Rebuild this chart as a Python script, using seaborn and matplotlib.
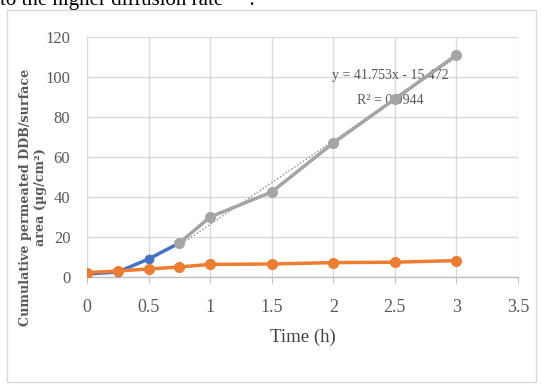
import matplotlib
matplotlib.use("Agg")
import matplotlib.pyplot as plt
import seaborn as sns
import pandas as pd
import numpy as np
from matplotlib.patches import Rectangle

# ---- data ----
blue_time = [0, 0.25, 0.5, 0.75]
blue_vals = [1.5, 2.5, 9, 17]

gray_time = [0.75, 1, 1.5, 2, 2.5, 3]
gray_vals = [17, 30, 42.5, 67, 89, 111]

orange_time = [0, 0.25, 0.5, 0.75, 1, 1.5, 2, 2.5, 3]
orange_vals = [2.2, 3, 4, 5, 6.3, 6.5, 7.2, 7.4, 8.2]

trend_slope = 41.753
trend_intercept = -15.472
trend_label = "y = 41.753x - 15.472"
r2_label = "R² = 0.9944"

x_ticks = [0, 0.5, 1, 1.5, 2, 2.5, 3, 3.5]
x_ticklabels = ["0", "0.5", "1", "1.5", "2", "2.5", "3", "3.5"]
y_ticks = [0, 20, 40, 60, 80, 100, 120]

sns.set_theme(style="white")
plt.rcParams["font.family"] = ["Liberation Serif", "DejaVu Serif"]

W, H = 541, 385
fig = plt.figure(figsize=(W / 100, H / 100), dpi=100)

# outer chart border
fig.patches.append(Rectangle((7 / W, 1 - 382 / H), (536 - 7) / W, (382 - 10) / H,
                             transform=fig.transFigure, fill=False,
                             edgecolor="#d9d9d9", linewidth=1.0))

# clipped text line from the page above
fig.text(0.0, 1 - 5 / H, "to the higher diffusion rate     .", fontsize=15,
         va="baseline", ha="left", color="black", family="Liberation Serif")

ax = fig.add_axes([87 / W, 1 - 277 / H, (518 - 87) / W, (277 - 37) / H])

df_blue = pd.DataFrame({"t": blue_time, "v": blue_vals})
df_gray = pd.DataFrame({"t": gray_time, "v": gray_vals})
df_orange = pd.DataFrame({"t": orange_time, "v": orange_vals})

trend_x = np.array([min(gray_time), max(gray_time)])
df_trend = pd.DataFrame({"t": trend_x, "v": trend_slope * trend_x + trend_intercept})

sns.lineplot(data=df_blue, x="t", y="v", ax=ax, color="#4472c4", linewidth=2.5,
             marker="o", markersize=7, markeredgewidth=0, zorder=3)
sns.lineplot(data=df_trend, x="t", y="v", ax=ax, color="#8c8c8c", linewidth=1.0,
             linestyle=(0, (1, 1.5)), zorder=4)
sns.lineplot(data=df_gray, x="t", y="v", ax=ax, color="#a5a5a5", linewidth=2.5,
             marker="o", markersize=8, markeredgewidth=0, zorder=5)
sns.lineplot(data=df_orange, x="t", y="v", ax=ax, color="#ed7d31", linewidth=2.5,
             marker="o", markersize=8, markeredgewidth=0, zorder=6)

ax.set_xlim(0, 3.5)
ax.set_ylim(0, 120)
ax.set_xticks(x_ticks)
ax.set_xticklabels(x_ticklabels)
ax.set_yticks(y_ticks)

ax.grid(True, color="#d9d9d9", linewidth=1.0)
ax.set_axisbelow(True)
for s in ["top", "right", "left"]:
    ax.spines[s].set_visible(False)
ax.spines["bottom"].set_color("#bfbfbf")
ax.spines["bottom"].set_linewidth(1.0)

ax.tick_params(axis="x", which="major", bottom=True, length=4, width=0.8,
               color="#bfbfbf", pad=12, labelsize=13, labelcolor="#595959")
ax.tick_params(axis="y", which="major", left=False, pad=6, labelsize=12,
               labelcolor="#595959")

ax.set_xlabel("Time (h)", fontsize=13.5, color="#404040", labelpad=9)
ax.set_ylabel("Cumulative permeated DDB/surface\narea (µg/cm²)", fontsize=9.2,
              fontweight="bold", color="#595959", family=["DejaVu Serif"],
              linespacing=1.2)
ax.yaxis.set_label_coords(-40 / (518 - 87), (277 - 197) / 240)

ax.text(2.46, 101, trend_label, fontsize=10, color="#595959", ha="center", va="center")
ax.text(2.46, 88.5, r2_label, fontsize=10, color="#595959", ha="center", va="center")

fig.savefig("out.png", dpi=100)
